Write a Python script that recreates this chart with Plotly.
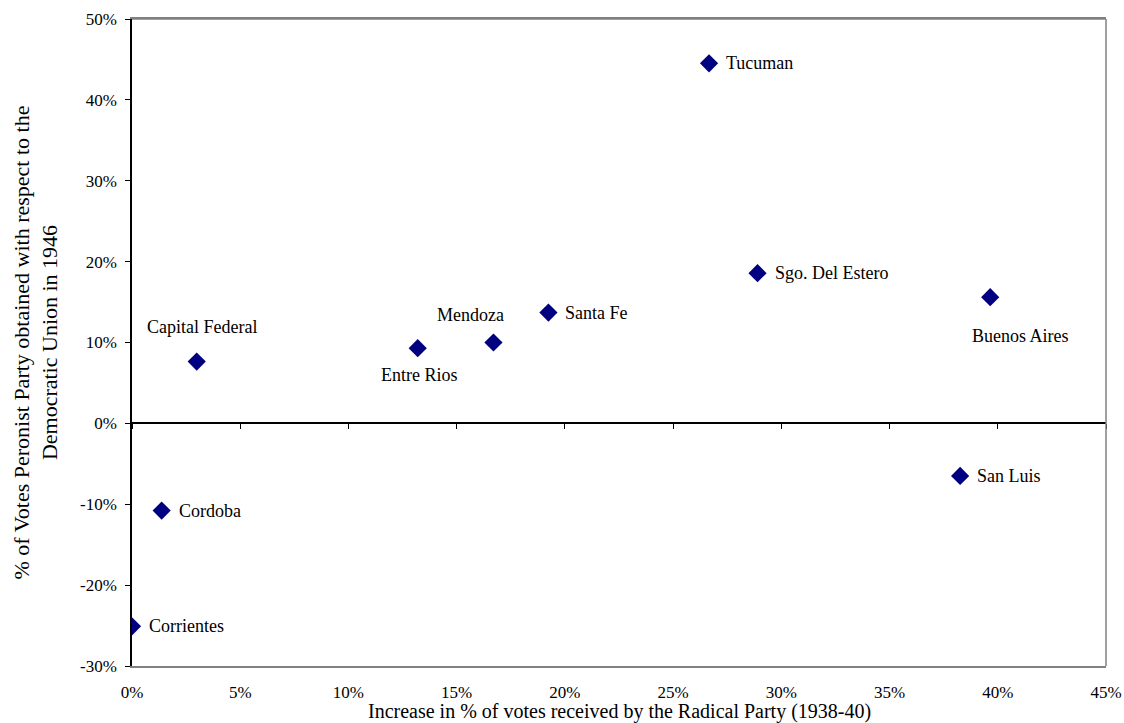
import plotly.graph_objects as go

provinces = ["Capital Federal", "Cordoba", "Corrientes", "Entre Rios", "Mendoza",
             "Santa Fe", "Tucuman", "Sgo. Del Estero", "Buenos Aires", "San Luis"]
radical_increase = [2.99, 1.37, 0.0, 13.2, 16.7, 19.24, 26.66, 28.9, 39.65, 38.26]
peronist_margin = [7.64, -10.78, -25.1, 9.3, 10.0, 13.7, 44.52, 18.57, 15.6, -6.5]

x_ticks = [0, 5, 10, 15, 20, 25, 30, 35, 40, 45]
y_ticks = [-30, -20, -10, 0, 10, 20, 30, 40, 50]

x_title = "Increase in % of votes received by the Radical Party (1938-40)"
y_title = "% of Votes Peronist Party obtained with respect to the<br>Democratic Union in 1946"

# label placement (style): (xanchor, yanchor, xshift, yshift)
label_style = {
    "Capital Federal": ("center", "middle", 5, 35),
    "Entre Rios": ("center", "middle", 2, -27),
    "Mendoza": ("center", "middle", -23, 28),
    "Buenos Aires": ("center", "middle", 30, -39),
}
default_style = ("left", "middle", 15, 0)

FONT = "Liberation Serif, Times New Roman, serif"
NAVY = "#000080"

fig = go.Figure()
fig.add_trace(go.Scatter(
    x=radical_increase, y=peronist_margin, mode="markers",
    marker=dict(symbol="diamond", size=14, color=NAVY),
    showlegend=False, hoverinfo="text", text=provinces,
))
# invisible trace to carry the zero-crossing axis
fig.add_trace(go.Scatter(
    x=radical_increase, y=peronist_margin, mode="markers", xaxis="x2",
    marker=dict(opacity=0), showlegend=False, hoverinfo="skip",
))

for name, xv, yv in zip(provinces, radical_increase, peronist_margin):
    xa, ya, dx, dy = label_style.get(name, default_style)
    fig.add_annotation(x=xv, y=yv, text=name, showarrow=False,
                       xanchor=xa, yanchor=ya, xshift=dx, yshift=dy,
                       font=dict(family=FONT, size=18, color="#000000"))

# x-axis title placed just below the tick labels
fig.add_annotation(x=0.5, y=0, xref="paper", yref="paper", text=x_title,
                   showarrow=False, xanchor="center", yanchor="middle", yshift=-45,
                   font=dict(family=FONT, size=20, color="#000000"))

fig.update_layout(
    width=1124, height=723,
    margin=dict(l=132, r=18, t=19, b=57),
    paper_bgcolor="white", plot_bgcolor="white",
    font=dict(family=FONT, size=17, color="#000000"),
    xaxis=dict(
        range=[0, 45], tickvals=x_ticks, ticktext=[f"{v}%" for v in x_ticks],
        showgrid=False, zeroline=False, showline=True, linecolor="#808080", linewidth=1.5,
        mirror=True, ticks="outside", ticklen=10, tickcolor="rgba(0,0,0,0)",
        tickfont=dict(size=17), automargin=False,
    ),
    xaxis2=dict(
        range=[0, 45], tickvals=x_ticks, overlaying="x", anchor="free", position=0.375,
        showgrid=False, zeroline=False, showline=True, linecolor="#000000", linewidth=1.5,
        ticks="outside", ticklen=5, tickcolor="#000000", tickwidth=1,
        showticklabels=False, automargin=False,
    ),
    yaxis=dict(
        range=[-30, 50], tickvals=y_ticks, ticktext=[f"{v}%" for v in y_ticks],
        showgrid=False, zeroline=False, showline=True, linecolor="#000000", linewidth=1.5,
        ticks="outside", ticklen=5, tickcolor="#000000", tickwidth=1,
        tickfont=dict(size=17), ticklabelstandoff=5, automargin=False,
        title=dict(text=y_title, font=dict(size=22), standoff=16),
    ),
)
fig.add_shape(type="line", xref="paper", yref="paper", x0=1, x1=1, y0=0, y1=1,
              line=dict(color="#808080", width=1.5))
fig.add_shape(type="line", xref="paper", yref="paper", x0=0, x1=1, y0=1, y1=1,
              line=dict(color="#808080", width=1.5))

fig.write_html("out.html")
